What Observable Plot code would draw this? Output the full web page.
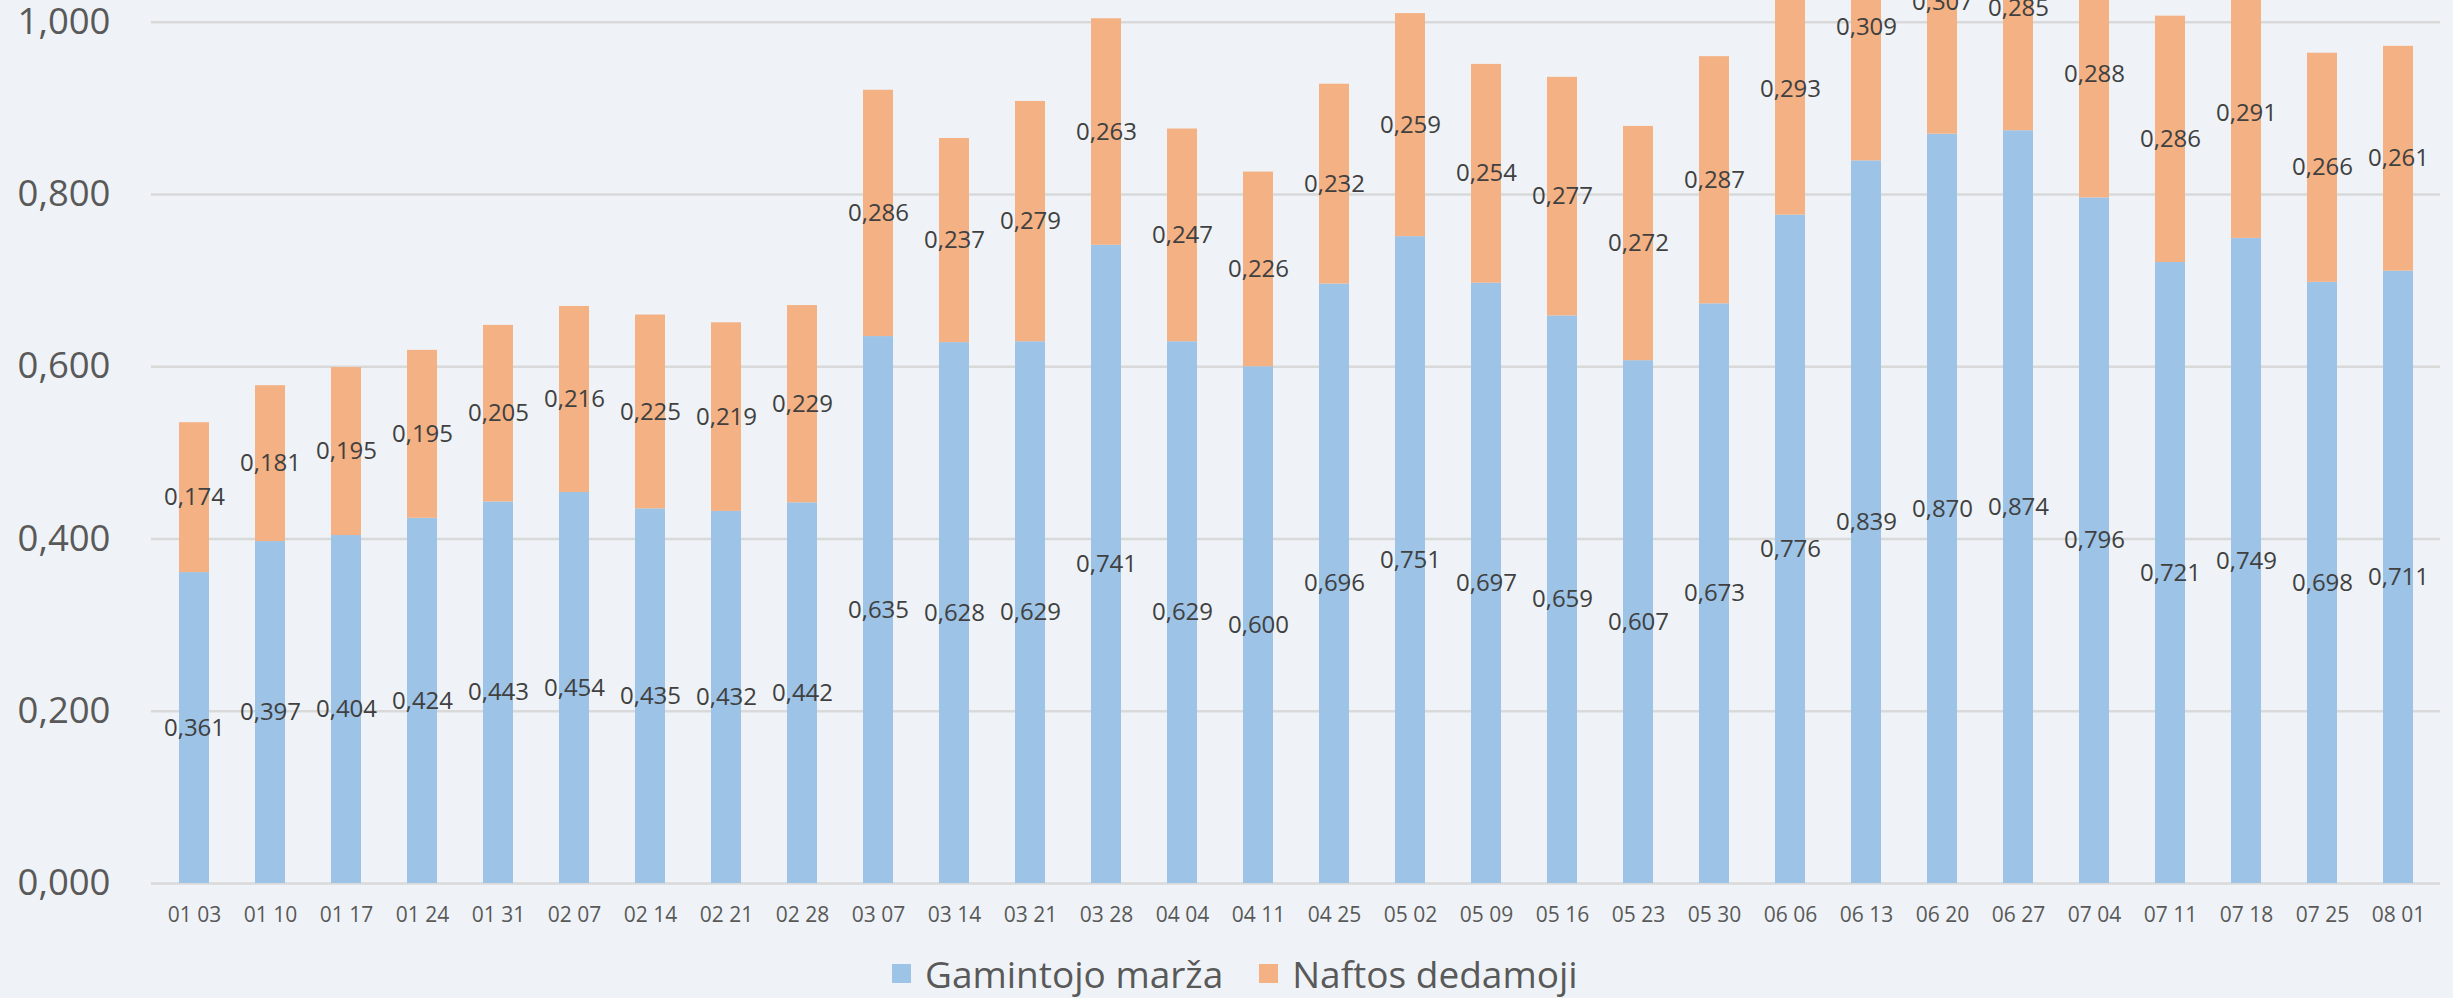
<!DOCTYPE html>
<html>
<head>
<meta charset="utf-8">
<script src="https://cdn.jsdelivr.net/npm/d3@7"></script>
<script src="https://cdn.jsdelivr.net/npm/@observablehq/plot@0.6"></script>
<style>
  html, body { margin: 0; padding: 0; background: #EFF3F7; width: 2453px; height: 998px; overflow: hidden; }
  #chart { width: 2453px; height: 940px; overflow: hidden; }
  #legend { height: 58px; box-sizing: border-box; padding-top: 8px; display: flex; align-items: center; padding-left: 892px; font-family: "Open Sans", sans-serif; font-size: 37px; color: #595959; }
  .sw { width: 19px; height: 19px; display: inline-block; margin-right: 14px; }
  .item { display: flex; align-items: center; margin-right: 36px; }
</style>
</head>
<body>
<div id="chart"></div>
<div id="legend"></div>
<script>
const categories = ["01 03","01 10","01 17","01 24","01 31","02 07","02 14","02 21","02 28","03 07","03 14","03 21","03 28","04 04","04 11","04 25","05 02","05 09","05 16","05 23","05 30","06 06","06 13","06 20","06 27","07 04","07 11","07 18","07 25","08 01"];
const gamintojoMarza = [0.361,0.397,0.404,0.424,0.443,0.454,0.435,0.432,0.442,0.635,0.628,0.629,0.741,0.629,0.600,0.696,0.751,0.697,0.659,0.607,0.673,0.776,0.839,0.870,0.874,0.796,0.721,0.749,0.698,0.711];
const naftosDedamoji = [0.174,0.181,0.195,0.195,0.205,0.216,0.225,0.219,0.229,0.286,0.237,0.279,0.263,0.247,0.226,0.232,0.259,0.254,0.277,0.272,0.287,0.293,0.309,0.307,0.285,0.288,0.286,0.291,0.266,0.261];
const seriesNames = ["Gamintojo marža", "Naftos dedamoji"];
const seriesColors = ["#9DC3E6", "#F4B183"];
const yTicks = [0, 0.2, 0.4, 0.6, 0.8, 1.0];

const fmt = v => v.toFixed(3).replace(".", ",");

const data = [
  ...categories.map((c, i) => ({date: c, series: seriesNames[0], value: gamintojoMarza[i]})),
  ...categories.map((c, i) => ({date: c, series: seriesNames[1], value: naftosDedamoji[i]}))
];

const chart = Plot.plot({
  width: 2453,
  height: 940,
  marginLeft: 151,
  marginRight: 13,
  marginTop: 21.7,
  marginBottom: 57,
  style: {background: "transparent", fontFamily: "'Open Sans', sans-serif", color: "#595959", overflow: "hidden"},
  x: {domain: categories, paddingInner: 0.607, paddingOuter: 0.3035, label: null},
  y: {domain: [0, 1], label: null},
  color: {domain: seriesNames, range: seriesColors},
  marks: [
    Plot.ruleY(yTicks, {stroke: "#D9D9D9", strokeWidth: 2.5}),
    Plot.barY(data, {x: "date", y: "value", fill: "series", order: seriesNames}),
    Plot.text(data, Plot.stackY({x: "date", y: "value", z: "series", order: seriesNames, text: d => fmt(d.value), fill: "#404040", fontSize: 24})),
    Plot.axisX({tickSize: 0, tickPadding: 24, fontSize: 21}),
    Plot.axisY(yTicks, {tickSize: 0, tickPadding: 41, fontSize: 36.5, tickFormat: fmt})
  ]
});
document.getElementById("chart").appendChild(chart);

const legend = document.getElementById("legend");
seriesNames.forEach((name, i) => {
  const item = document.createElement("div");
  item.className = "item";
  const sw = document.createElement("span");
  sw.className = "sw";
  sw.style.background = seriesColors[i];
  const label = document.createElement("span");
  label.textContent = name;
  item.appendChild(sw);
  item.appendChild(label);
  legend.appendChild(item);
});
</script>
</body>
</html>
